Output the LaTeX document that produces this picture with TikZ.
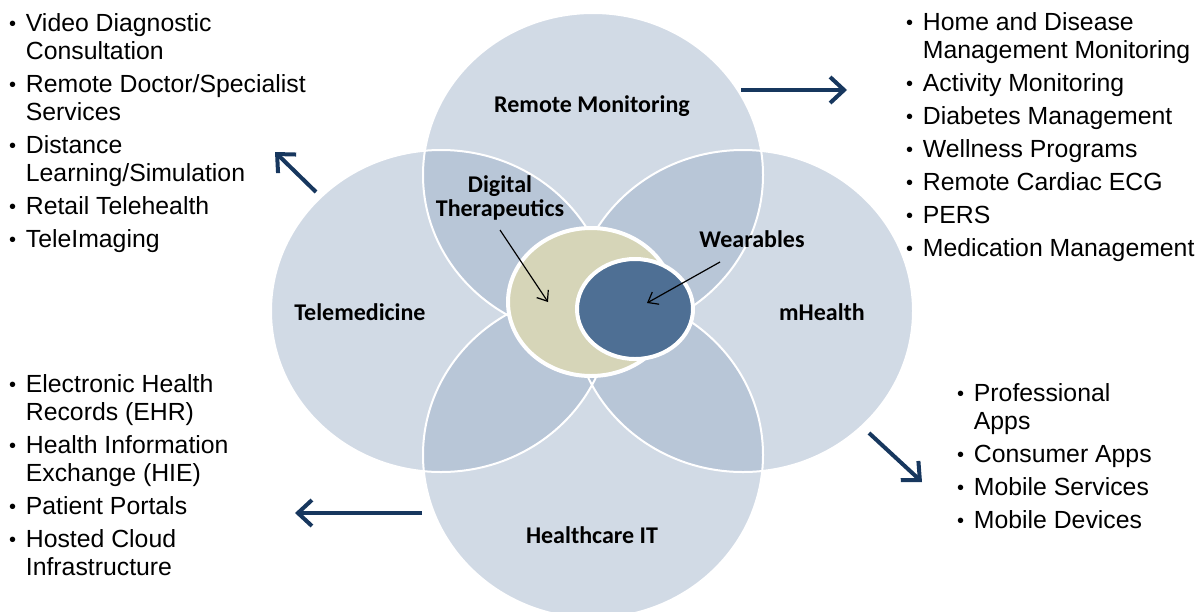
\documentclass[tikz,border=0pt]{standalone}
\usepackage{fontspec}
\usepackage{xcolor}
\usetikzlibrary{arrows.meta}
\setmainfont{Liberation Sans}
\newfontfamily\calibri{Carlito}
\definecolor{petalblue}{RGB}{154,173,198}
\definecolor{corebeige}{RGB}{214,213,184}
\definecolor{coreblue}{RGB}{78,111,148}
\definecolor{arrownavy}{RGB}{23,55,94}
\newcommand{\dotmark}{\makebox[8.7pt]{\raisebox{1pt}{\fontsize{20}{20}\selectfont\textbullet}}}
\tikzset{
    petal-fill/.style = {fill=petalblue, fill opacity=0.45},
    petal-edge/.style = {draw=white, line width=2pt},
    core/.style = {draw=white, line width=4pt},
    petal-title/.style = {font=\calibri\bfseries\fontsize{24}{24}\selectfont, align=center, inner sep=0pt},
    bullet-list/.style = {font=\fontsize{24.8}{28}\selectfont, anchor=base west, inner sep=0pt},
    out-arrow/.style = {draw=arrownavy, line width=4pt, -{Straight Barb[length=14pt,width=26pt]}},
    pointer/.style = {draw=black, line width=1.2pt, -{Straight Barb[length=9pt,width=14pt]}},
}

\begin{document}
\begin{tikzpicture}[x=1pt, y=-1pt]
\useasboundingbox (0,0) rectangle (1201,611);
\foreach \cx/\cy/\ry in {593/175/162, 441/311/161, 743/311/161, 593/455/163}
    \fill[petal-fill] (\cx,\cy) ellipse [x radius=170, y radius=\ry];
\foreach \cx/\cy/\ry in {593/175/162, 441/311/161, 743/311/161, 593/455/163}
    \draw[petal-edge] (\cx,\cy) ellipse [x radius=170, y radius=\ry];
\draw[core, fill=corebeige] (591,302) ellipse [x radius=83, y radius=74];
\draw[core, fill=coreblue] (635,309) ellipse [x radius=58, y radius=50];

\node[petal-title] (rm) at (592,106) {Remote Monitoring};
\node[petal-title] (tm) at (360,312) {Telemedicine};
\node[petal-title] (mh) at (822,312) {mHealth};
\node[petal-title] (hit) at (592,535) {Healthcare IT};
\node[petal-title] (dt) at (500,198) {Digital\\Therapeutics};
\node[petal-title] (wb) at (752,239) {Wearables};

\node[bullet-list] (tm-list) at (8,31) {\begin{tabular}[t]{@{}l@{\hspace{9pt}}l@{}}
\dotmark & Video Diagnostic\\
 & Consultation\\[5pt]
\dotmark & Remote Doctor/Specialist\\
 & Services\\[5pt]
\dotmark & Distance\\
 & Learning/Simulation\\[5pt]
\dotmark & Retail Telehealth\\[5pt]
\dotmark & TeleImaging
\end{tabular}};
\node[bullet-list] (rm-list) at (905,30) {\begin{tabular}[t]{@{}l@{\hspace{9pt}}l@{}}
\dotmark & Home and Disease\\
 & Management Monitoring\\[5pt]
\dotmark & Activity Monitoring\\[5pt]
\dotmark & Diabetes Management\\[5pt]
\dotmark & Wellness Programs\\[5pt]
\dotmark & Remote Cardiac ECG\\[5pt]
\dotmark & PERS\\[5pt]
\dotmark & Medication Management
\end{tabular}};
\node[bullet-list] (hit-list) at (8,392) {\begin{tabular}[t]{@{}l@{\hspace{9pt}}l@{}}
\dotmark & Electronic Health\\
 & Records (EHR)\\[5pt]
\dotmark & Health Information\\
 & Exchange (HIE)\\[5pt]
\dotmark & Patient Portals\\[5pt]
\dotmark & Hosted Cloud\\
 & Infrastructure
\end{tabular}};
\node[bullet-list] (mh-list) at (956,401) {\begin{tabular}[t]{@{}l@{\hspace{9pt}}l@{}}
\dotmark & Professional\\
 & Apps\\[5pt]
\dotmark & Consumer Apps\\[5pt]
\dotmark & Mobile Services\\[5pt]
\dotmark & Mobile Devices
\end{tabular}};

\coordinate (rm-from) at (741,90);
\coordinate (rm-to) at (847,90);
\coordinate (tm-from) at (316,192);
\coordinate (tm-to) at (275,152);
\coordinate (hit-from) at (422,513);
\coordinate (hit-to) at (295,513);
\coordinate (mh-from) at (869,433);
\coordinate (mh-to) at (922,482);
\draw[out-arrow] (rm-from) -- (rm-to);
\draw[out-arrow] (tm-from) -- (tm-to);
\draw[out-arrow] (hit-from) -- (hit-to);
\draw[out-arrow] (mh-from) -- (mh-to);

\coordinate (dt-from) at (500,230);
\coordinate (dt-to) at (548,302);
\coordinate (wb-from) at (720,262);
\coordinate (wb-to) at (647,303);
\draw[pointer] (dt-from) -- (dt-to);
\draw[pointer] (wb-from) -- (wb-to);
\end{tikzpicture}
\end{document}
